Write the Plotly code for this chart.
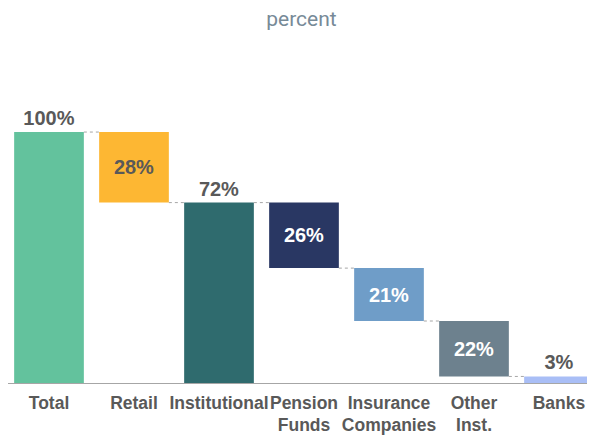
import plotly.graph_objects as go

categories = ["Total", "Retail", "Institutional", "Pension<br>Funds",
              "Insurance<br>Companies", "Other<br>Inst.", "Banks"]
values = [100, 28, 72, 26, 21, 22, 3]
kinds = ["total", "decrease", "total", "decrease", "decrease", "decrease", "decrease"]
colors = ["#63C29D", "#FDB733", "#2F6B6E", "#293763", "#6F9DC8", "#6D818E", "#A9BEF6"]
text_colors = ["#595959", "#595959", "#595959", "#FFFFFF", "#FFFFFF", "#FFFFFF", "#595959"]
text_pos = ["outside", "inside", "outside", "inside", "inside", "inside", "outside"]

# compute bases for waterfall
bases = []
level = 0
for v, k in zip(values, kinds):
    if k == "total":
        bases.append(0)
        level = v
    else:
        level = level - v
        bases.append(level)

x = list(range(len(categories)))
W = 0.82

fig = go.Figure()
fig.add_trace(go.Bar(
    x=x, y=values, base=bases, width=W,
    marker=dict(color=colors, line=dict(width=0)),
    text=[f"{v}%" for v in values],
    textposition=text_pos,
    insidetextanchor="middle",
    constraintext="none",
    textfont=dict(family="Liberation Sans, Arial", size=20, color=text_colors, weight="bold"),
    cliponaxis=False,
    hoverinfo="skip",
))

# connectors
for i in range(len(values) - 1):
    lvl = bases[i + 1] + values[i + 1]
    fig.add_trace(go.Scatter(
        x=[i + W / 2, i + 1 - W / 2], y=[lvl, lvl], mode="lines",
        line=dict(color="#A6A6A6", width=1, dash="dot"),
        hoverinfo="skip", showlegend=False,
    ))

# page body has an 8px margin, so figure is sized to fit the window
fig.update_layout(
    width=587, height=428,
    margin=dict(l=0, r=0, t=52, b=52, autoexpand=False),
    paper_bgcolor="white", plot_bgcolor="white",
    showlegend=False,
    title=dict(text="percent", x=0.5, xanchor="center", xref="paper",
               y=1 - 11 / 428, yanchor="middle",
               font=dict(family="Roboto", size=21, color="#778A97")),
    xaxis=dict(range=[-0.4824, 6.4235], tickvals=x, ticktext=categories,
               showgrid=False, zeroline=False, showline=False,
               ticks="", ticklabelstandoff=6, tickangle=0, automargin=False,
               tickfont=dict(family="Liberation Sans, Arial", size=17.5,
                             color="#595959", weight="bold")),
    yaxis=dict(range=[0, 128.6], visible=False, showgrid=False, zeroline=False),
    shapes=[dict(type="line", xref="paper", yref="y", x0=0, x1=1, y0=0, y1=0,
                 line=dict(color="#A6A6A6", width=2), layer="above")],
)

fig.write_html("out.html")
